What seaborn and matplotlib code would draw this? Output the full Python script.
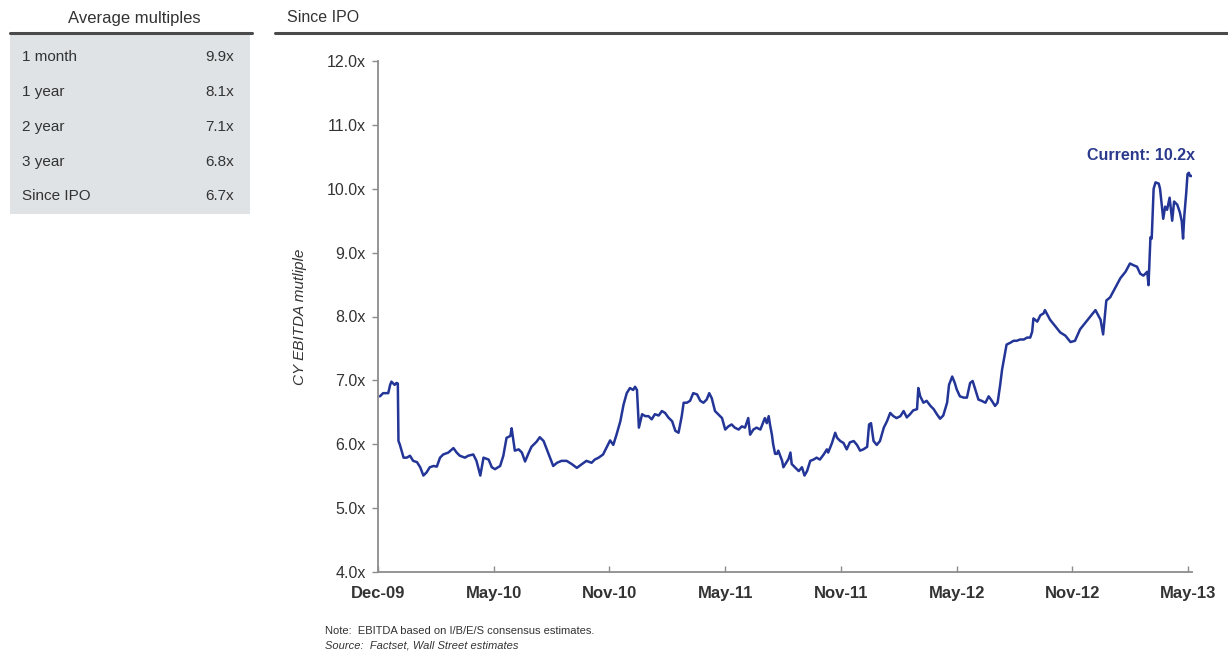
import matplotlib
matplotlib.use("Agg")
import matplotlib.pyplot as plt
import matplotlib.dates as mdates
from matplotlib.patches import Rectangle
from matplotlib.lines import Line2D
from matplotlib.ticker import FuncFormatter, MultipleLocator
import numpy as np
import pandas as pd
import seaborn as sns

# ---- Average multiples table ----
period_labels = ["1 month", "1 year", "2 year", "3 year", "Since IPO"]
period_multiples = [9.9, 8.1, 7.1, 6.8, 6.7]

# ---- CY EBITDA multiple history ----
obs_dates = [
    "2009-12-04", "2009-12-09", "2009-12-17", "2009-12-20", "2009-12-22", "2009-12-27", "2009-12-30",
    "2010-01-01", "2010-01-02", "2010-01-04", "2010-01-10", "2010-01-15", "2010-01-20", "2010-01-25",
    "2010-01-31", "2010-02-05", "2010-02-10", "2010-02-15", "2010-02-20", "2010-02-26", "2010-03-03",
    "2010-03-08", "2010-03-13", "2010-03-21", "2010-03-29", "2010-04-03", "2010-04-08", "2010-04-16",
    "2010-04-21", "2010-04-29", "2010-05-04", "2010-05-10", "2010-05-15", "2010-05-23", "2010-05-28",
    "2010-06-02", "2010-06-10", "2010-06-15", "2010-06-20", "2010-06-26", "2010-06-28", "2010-07-03",
    "2010-07-09", "2010-07-14", "2010-07-19", "2010-07-24", "2010-07-29", "2010-08-06", "2010-08-11",
    "2010-08-17", "2010-08-24", "2010-09-01", "2010-09-07", "2010-09-14", "2010-09-22", "2010-09-30",
    "2010-10-08", "2010-10-16", "2010-10-23", "2010-10-31", "2010-11-05", "2010-11-11", "2010-11-18",
    "2010-11-24", "2010-11-29", "2010-12-04", "2010-12-09", "2010-12-15", "2010-12-20", "2010-12-25",
    "2010-12-30", "2011-01-04", "2011-01-07", "2011-01-10", "2011-01-13", "2011-01-18", "2011-01-23",
    "2011-01-28", "2011-02-02", "2011-02-07", "2011-02-13", "2011-02-18", "2011-02-23", "2011-02-28",
    "2011-03-06", "2011-03-11", "2011-03-16", "2011-03-21", "2011-03-24", "2011-03-29", "2011-04-03",
    "2011-04-08", "2011-04-14", "2011-04-19", "2011-04-24", "2011-04-29", "2011-05-03", "2011-05-07",
    "2011-05-12", "2011-05-17", "2011-05-23", "2011-05-28", "2011-06-02", "2011-06-07", "2011-06-12",
    "2011-06-18", "2011-06-23", "2011-06-28", "2011-07-03", "2011-07-06", "2011-07-11", "2011-07-16",
    "2011-07-22", "2011-07-27", "2011-07-29", "2011-08-01", "2011-08-04", "2011-08-06", "2011-08-09",
    "2011-08-11", "2011-08-14", "2011-08-17", "2011-08-19", "2011-08-25", "2011-08-27", "2011-08-30",
    "2011-09-04", "2011-09-07", "2011-09-09", "2011-09-14", "2011-09-20", "2011-09-25", "2011-09-29",
    "2011-10-03", "2011-10-08", "2011-10-13", "2011-10-18", "2011-10-23", "2011-10-29", "2011-11-03",
    "2011-11-05", "2011-11-11", "2011-11-16", "2011-11-19", "2011-11-24", "2011-11-29", "2011-12-04",
    "2011-12-09", "2011-12-15", "2011-12-20", "2011-12-25", "2011-12-30", "2012-01-05", "2012-01-08",
    "2012-01-11", "2012-01-15", "2012-01-20", "2012-01-25", "2012-01-31", "2012-02-05", "2012-02-10",
    "2012-02-15", "2012-02-20", "2012-02-26", "2012-03-02", "2012-03-07", "2012-03-12", "2012-03-17",
    "2012-03-23", "2012-03-25", "2012-03-28", "2012-04-02", "2012-04-07", "2012-04-13", "2012-04-18",
    "2012-04-23", "2012-04-28", "2012-05-03", "2012-05-09", "2012-05-12", "2012-05-17", "2012-05-21",
    "2012-05-24", "2012-05-29", "2012-06-04", "2012-06-09", "2012-06-14", "2012-06-18", "2012-06-22",
    "2012-06-27", "2012-07-02", "2012-07-08", "2012-07-13", "2012-07-18", "2012-07-23", "2012-07-27",
    "2012-07-31", "2012-08-03", "2012-08-05", "2012-08-10", "2012-08-16", "2012-08-21", "2012-08-26",
    "2012-08-31", "2012-09-06", "2012-09-11", "2012-09-16", "2012-09-19", "2012-09-21", "2012-09-27",
    "2012-10-02", "2012-10-07", "2012-10-09", "2012-10-17", "2012-10-25", "2012-11-02", "2012-11-10",
    "2012-11-18", "2012-11-25", "2012-12-03", "2012-12-11", "2012-12-19", "2012-12-27", "2013-01-04",
    "2013-01-08", "2013-01-13", "2013-01-19", "2013-01-27", "2013-02-04", "2013-02-12", "2013-02-19",
    "2013-02-25", "2013-03-02", "2013-03-07", "2013-03-12", "2013-03-18", "2013-03-20", "2013-03-23",
    "2013-03-25", "2013-03-28", "2013-03-31", "2013-04-05", "2013-04-07", "2013-04-12", "2013-04-15",
    "2013-04-18", "2013-04-22", "2013-04-26", "2013-04-29", "2013-05-04", "2013-05-08", "2013-05-11",
    "2013-05-13", "2013-05-15", "2013-05-18", "2013-05-20", "2013-05-22", "2013-05-24", "2013-05-27",
]
ebitda_multiple = [
    6.75, 6.80, 6.80, 6.93, 6.98, 6.93, 6.96,
    6.95, 6.05, 6.00, 5.79, 5.79, 5.82, 5.74,
    5.72, 5.64, 5.51, 5.56, 5.64, 5.66, 5.65,
    5.79, 5.84, 5.87, 5.94, 5.87, 5.82, 5.79,
    5.82, 5.84, 5.74, 5.51, 5.79, 5.76, 5.64,
    5.61, 5.66, 5.82, 6.10, 6.13, 6.25, 5.90,
    5.92, 5.87, 5.73, 5.85, 5.96, 6.04, 6.11,
    6.05, 5.87, 5.66, 5.71, 5.74, 5.74, 5.69,
    5.63, 5.69, 5.74, 5.71, 5.76, 5.79, 5.84,
    5.96, 6.06, 5.99, 6.15, 6.36, 6.62, 6.80,
    6.88, 6.85, 6.90, 6.85, 6.26, 6.47, 6.44,
    6.44, 6.39, 6.47, 6.45, 6.52, 6.49, 6.42,
    6.36, 6.21, 6.18, 6.44, 6.65, 6.65, 6.68,
    6.80, 6.78, 6.68, 6.65, 6.70, 6.80, 6.72,
    6.52, 6.47, 6.41, 6.23, 6.28, 6.31, 6.26,
    6.23, 6.28, 6.26, 6.41, 6.15, 6.23, 6.26,
    6.23, 6.36, 6.41, 6.33, 6.44, 6.31, 6.15,
    6.00, 5.85, 5.85, 5.90, 5.74, 5.64, 5.69,
    5.77, 5.87, 5.69, 5.64, 5.58, 5.64, 5.51,
    5.58, 5.74, 5.76, 5.79, 5.76, 5.84, 5.92,
    5.87, 6.02, 6.18, 6.10, 6.05, 6.02, 5.92,
    6.03, 6.05, 5.99, 5.90, 5.92, 5.96, 6.31,
    6.33, 6.05, 5.99, 6.05, 6.26, 6.36, 6.49,
    6.44, 6.41, 6.44, 6.52, 6.42, 6.47, 6.53,
    6.55, 6.88, 6.75, 6.65, 6.68, 6.60, 6.55,
    6.47, 6.40, 6.45, 6.65, 6.93, 7.06, 6.96,
    6.86, 6.75, 6.73, 6.73, 6.96, 6.99, 6.86,
    6.70, 6.68, 6.65, 6.75, 6.68, 6.60, 6.65,
    6.93, 7.17, 7.28, 7.56, 7.59, 7.62, 7.62,
    7.64, 7.64, 7.67, 7.67, 7.76, 7.97, 7.92,
    8.02, 8.05, 8.10, 7.95, 7.85, 7.75, 7.70,
    7.60, 7.62, 7.80, 7.90, 8.00, 8.10, 7.95,
    7.72, 8.25, 8.30, 8.45, 8.60, 8.70, 8.83,
    8.80, 8.78, 8.67, 8.64, 8.70, 8.49, 9.24,
    9.22, 10.00, 10.10, 10.08, 10.00, 9.53, 9.72,
    9.67, 9.86, 9.50, 9.80, 9.75, 9.63, 9.49,
    9.22, 9.58, 9.94, 10.23, 10.25, 10.20, 10.20,
]

axis_start = "2009-12-01"
axis_end = "2013-05-27"
tick_step_days = 181
y_min, y_max = 4.0, 12.0

note_line = "Note:  EBITDA based on I/B/E/S consensus estimates."
source_line = "Source:  Factset, Wall Street estimates"

df = pd.DataFrame({"date": pd.to_datetime(obs_dates), "multiple": ebitda_multiple})

sns.set_theme(style="white")
plt.rcParams["font.family"] = ["Liberation Sans", "DejaVu Sans"]

text_col = "#333333"
line_col = "#233597"
spine_col = "#8c8c8c"

fig = plt.figure(figsize=(12.28, 6.56), dpi=100)
W, H = 1228, 656


def fx(px):
    return px / W


def fy(py):
    return 1 - py / H


ax = fig.add_axes([fx(378), fy(572), fx(1192) - fx(378), fy(61) - fy(572)])

sns.lineplot(data=df, x="date", y="multiple", ax=ax, color=line_col, linewidth=1.8)

start = pd.Timestamp(axis_start)
ax.set_xlim(start, pd.Timestamp(axis_end))
ax.set_ylim(y_min, y_max)

tick_dates = [start + pd.Timedelta(days=tick_step_days * k) for k in range(8)]
ax.set_xticks(tick_dates)
ax.xaxis.set_major_formatter(mdates.DateFormatter("%b-%y"))
ax.yaxis.set_major_locator(MultipleLocator(1.0))
ax.yaxis.set_major_formatter(FuncFormatter(lambda v, _: f"{v:.1f}x"))

for lbl in ax.get_xticklabels():
    lbl.set_fontweight("bold")
ax.tick_params(axis="x", bottom=True, direction="in", length=4, width=1, color=spine_col,
               labelsize=12, labelcolor=text_col, pad=10)
ax.tick_params(axis="y", left=True, direction="out", length=4, width=1, color=spine_col,
               labelsize=11.5, labelcolor=text_col, pad=5)

for side in ["top", "right"]:
    ax.spines[side].set_visible(False)
for side in ["left", "bottom"]:
    ax.spines[side].set_color(spine_col)
    ax.spines[side].set_linewidth(1.3)

ax.set_xlabel("")
ax.set_ylabel("CY EBITDA mutliple", fontsize=11, style="italic", color=text_col, labelpad=14)
ax.grid(False)

# Latest value callout
last_date = df["date"].iloc[-1]
last_val = df["multiple"].iloc[-1]
ax.annotate(f"Current: {last_val:.1f}x", xy=(last_date, last_val), xytext=(2, 9),
            textcoords="offset points", ha="right", va="bottom",
            fontsize=11.5, fontweight="bold", color="#2b3a8c", annotation_clip=False)

# Panel heading above the chart
fig.text(fx(287), fy(18), "Since IPO", fontsize=11.5, color=text_col, va="center", ha="left")
fig.add_artist(Line2D([fx(275), fx(1228)], [fy(33), fy(33)], color="#4a4a4a", linewidth=2.2))

# Average multiples table
fig.text(fx(134), fy(18), "Average multiples", fontsize=12, color=text_col, va="center", ha="center")
fig.add_artist(Line2D([fx(10), fx(252)], [fy(33), fy(33)], color="#4a4a4a", linewidth=2.2))
fig.add_artist(Rectangle((fx(10), fy(214)), fx(250) - fx(10), fy(35) - fy(214),
                         transform=fig.transFigure, facecolor="#dfe3e6", edgecolor="none", zorder=0))
row_y = [57, 92, 127, 162, 196]
for lab, val, ry in zip(period_labels, period_multiples, row_y):
    fig.text(fx(22), fy(ry), lab, fontsize=11, color=text_col, va="center", ha="left")
    fig.text(fx(234), fy(ry), f"{val:.1f}x", fontsize=11, color=text_col, va="center", ha="right")

# Footnotes
fig.text(fx(325), fy(631), note_line, fontsize=8, color=text_col, va="center", ha="left")
fig.text(fx(325), fy(645), source_line, fontsize=8, color=text_col, va="center", ha="left",
         style="italic")

fig.savefig("out.png", dpi=100, facecolor="white")
